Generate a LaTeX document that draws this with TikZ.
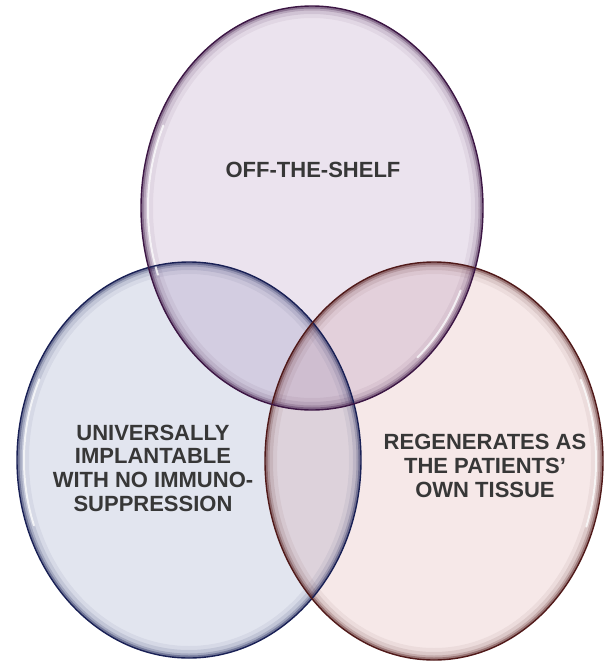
\documentclass[tikz,border=0pt]{standalone}
\usepackage{fontspec}
\setmainfont{Liberation Sans}

\definecolor{shelfbase}{RGB}{145,100,160}
\definecolor{shelfedge}{RGB}{60,22,68}
\definecolor{implantbase}{RGB}{100,115,170}
\definecolor{implantedge}{RGB}{25,32,85}
\definecolor{regenbase}{RGB}{200,120,120}
\definecolor{regenedge}{RGB}{80,25,25}
\definecolor{textgray}{RGB}{55,55,55}

\tikzset{
    bubble text/.style={font=\fontsize{22}{23.7}\selectfont\bfseries, text=textgray, align=center, inner sep=0pt},
    shine/.style={white, line width=2pt, opacity=0.8, line cap=round}
}

\begin{document}
\begin{tikzpicture}[x=1pt, y=-1pt]
    \useasboundingbox (0,0) rectangle (609,661);

    % Centres
    \coordinate (shelf) at (312,208);
    \coordinate (implant) at (189,460);
    \coordinate (regen) at (434,461);

    % Fills
    \fill[implantbase, fill opacity=0.19] (implant) ellipse [x radius=172, y radius=198];
    \fill[regenbase, fill opacity=0.17] (regen) ellipse [x radius=169, y radius=199];
    \fill[shelfbase, fill opacity=0.18] (shelf) ellipse [x radius=171, y radius=202];

    % Rims
    \begin{scope}
        \clip (implant) ellipse [x radius=172, y radius=198];
        \foreach \w/\o in {24/0.06, 16/0.1, 9/0.18, 5/0.35}
            \draw[implantedge, line width=\w pt, opacity=\o] (implant) ellipse [x radius=172, y radius=198];
    \end{scope}
    \begin{scope}
        \clip (regen) ellipse [x radius=169, y radius=199];
        \foreach \w/\o in {24/0.06, 16/0.1, 9/0.18, 5/0.35}
            \draw[regenedge, line width=\w pt, opacity=\o] (regen) ellipse [x radius=169, y radius=199];
    \end{scope}
    \begin{scope}
        \clip (shelf) ellipse [x radius=171, y radius=202];
        \foreach \w/\o in {24/0.06, 16/0.1, 9/0.18, 5/0.35}
            \draw[shelfedge, line width=\w pt, opacity=\o] (shelf) ellipse [x radius=171, y radius=202];
    \end{scope}

    % Highlights
    \draw[shine] (implant) ++(160:165 and 191) arc [start angle=160, end angle=205, x radius=165, y radius=191];
    \draw[shine] (regen) ++(-25:162 and 192) arc [start angle=-25, end angle=20, x radius=162, y radius=192];
    \draw[shine] (shelf) ++(160:164 and 195) arc [start angle=160, end angle=205, x radius=164, y radius=195];
    \draw[shine] (shelf) ++(25:164 and 195) arc [start angle=25, end angle=50, x radius=164, y radius=195];

    % Outlines
    \draw[implantedge, line width=1.4pt] (implant) ellipse [x radius=172, y radius=198];
    \draw[regenedge, line width=1.4pt] (regen) ellipse [x radius=169, y radius=199];
    \draw[shelfedge, line width=1.4pt] (shelf) ellipse [x radius=171, y radius=202];

    % Labels
    \node[bubble text] (shelftext) at (313,170) {OFF-THE-SHELF};
    \node[bubble text] (implanttext) at (153,468) {UNIVERSALLY\\IMPLANTABLE\\WITH NO IMMUNO-\\SUPPRESSION};
    \node[bubble text] (regentext) at (485,466) {REGENERATES AS\\THE PATIENTS'\\OWN TISSUE};

\end{tikzpicture}
\end{document}
